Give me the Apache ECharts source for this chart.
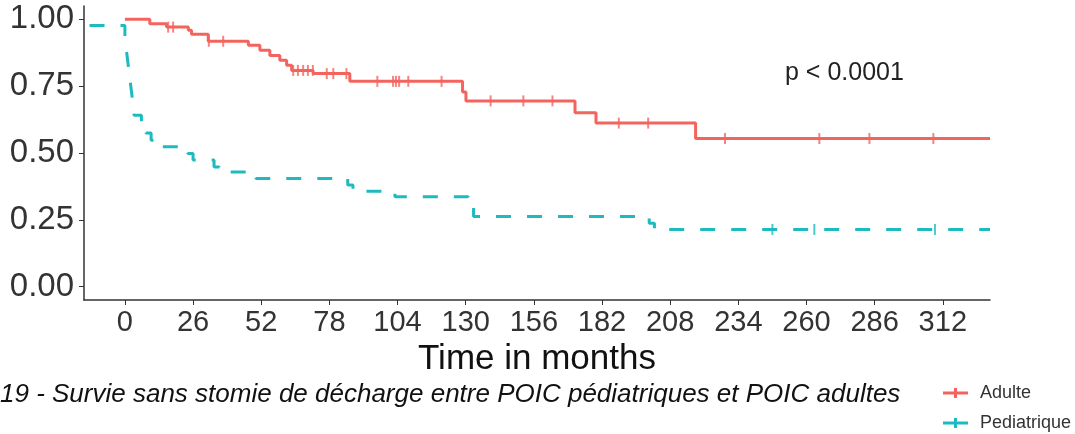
<!DOCTYPE html>
<html>
<head>
<meta charset="utf-8">
<title>Survie sans stomie</title>
<script src="https://cdn.jsdelivr.net/npm/echarts@6/dist/echarts.min.js"></script>
<style>
  html, body { margin: 0; padding: 0; background: #fff; }
  #chart { width: 1075px; height: 434px; }
</style>
</head>
<body>
<div id="chart"></div>
<script>
// courbes de Kaplan-Meier
const adultTimes = [0, 9.5, 15.9, 24.2, 25.4, 31.8, 47.1, 51.5, 55.3, 59.1, 61.7, 63.6, 71.8, 85.8, 128.8, 130.1, 171.7, 179.7, 217.7, 330];
const adultSurv = [1.0, 0.984, 0.971, 0.959, 0.944, 0.918, 0.903, 0.884, 0.865, 0.847, 0.828, 0.809, 0.797, 0.768, 0.728, 0.695, 0.651, 0.612, 0.554, 0.554];
const adultCensor = [16.5, 18.4, 32, 37.5, 64.2, 66, 68, 69.8, 71.7, 77, 79.5, 84.5, 96.3, 102.3, 103.4, 104.6, 108.1, 120.8, 139.5, 152, 163.1, 188.4, 199.6, 228.9, 264.9, 284, 308.4];

const pedTimes = [-13.5, 0, 0.5, 1.0, 1.5, 2.0, 2.5, 3.0, 3.5, 6.3, 8.0, 10.0, 12.0, 24.0, 26.0, 34.0, 36.0, 50.0, 85.0, 87.0, 103.0, 131.0, 133.0, 200.0, 202.0, 330];
const pedSurv = [0.977, 0.93, 0.89, 0.85, 0.81, 0.77, 0.73, 0.69, 0.641, 0.61, 0.575, 0.548, 0.523, 0.498, 0.474, 0.448, 0.429, 0.405, 0.38, 0.357, 0.336, 0.30, 0.262, 0.237, 0.214, 0.214];
const pedCensor = [247, 263, 309];

const xTicks = [0, 26, 52, 78, 104, 130, 156, 182, 208, 234, 260, 286, 312];
const yTicks = [0, 0.25, 0.5, 0.75, 1];

const RED = '#F3645E';
const TEAL = '#1DBABF';

function survAt(times, surv, t) {
  let v = surv[0];
  for (let i = 0; i < times.length; i++) {
    if (times[i] <= t) v = surv[i];
  }
  return v;
}

const chart = echarts.init(document.getElementById('chart'));

const plusIcon = 'path://M0,7h50v6h-50z M22,0h6v20h-6z';

const option = {
  animation: false,
  grid: { left: 84, right: 85, top: 6, bottom: 134 },
  xAxis: {
    type: 'value',
    min: -15.6,
    max: 330,
    name: 'Time in months',
    nameLocation: 'middle',
    nameGap: 35,
    nameTextStyle: { fontFamily: 'Liberation Sans', fontSize: 35, color: '#111' },
    splitLine: { show: false },
    axisLine: { show: true, onZero: false, lineStyle: { color: '#333', width: 1.5 } },
    axisTick: { show: true, customValues: xTicks, length: 5, lineStyle: { color: '#333' } },
    axisLabel: {
      customValues: xTicks,
      margin: 8,
      fontFamily: 'Liberation Sans',
      fontSize: 29,
      color: '#333'
    }
  },
  yAxis: {
    type: 'value',
    min: -0.05,
    max: 1.05,
    splitLine: { show: false },
    axisLine: { show: true, onZero: false, lineStyle: { color: '#333', width: 1.5 } },
    axisTick: { show: true, customValues: yTicks, length: 5, lineStyle: { color: '#333' } },
    axisLabel: {
      customValues: yTicks,
      margin: 10,
      fontFamily: 'Liberation Sans',
      fontSize: 33,
      color: '#333',
      formatter: v => v.toFixed(2)
    }
  },
  legend: {
    orient: 'vertical',
    left: 943,
    top: 383,
    width: 132,
    height: 51,
    padding: 0,
    itemWidth: 25,
    itemHeight: 10,
    itemGap: 10,
    textStyle: { fontFamily: 'Liberation Sans', fontSize: 18, lineHeight: 20, color: '#333', padding: [0, 0, 0, 7] },
    data: [
      { name: 'Adulte', icon: plusIcon, itemStyle: { color: RED } },
      { name: 'Pediatrique', icon: plusIcon, itemStyle: { color: TEAL } }
    ]
  },
  graphic: [
    {
      type: 'text',
      left: 785,
      top: 61,
      style: { text: 'p < 0.0001', fontFamily: 'Liberation Sans', fontSize: 25, fill: '#222' }
    },
    {
      type: 'text',
      left: 0,
      top: 382,
      style: {
        text: '19 - Survie sans stomie de décharge entre POIC pédiatriques et POIC adultes',
        fontFamily: 'Liberation Sans',
        fontStyle: 'italic',
        fontSize: 26,
        fill: '#111'
      }
    }
  ],
  series: [
    {
      name: 'Adulte',
      type: 'line',
      step: 'end',
      showSymbol: false,
      color: RED,
      lineStyle: { color: RED, width: 3 },
      data: adultTimes.map((t, i) => [t, adultSurv[i]])
    },
    {
      name: 'Adulte',
      type: 'scatter',
      symbol: 'rect',
      symbolSize: [2, 11],
      itemStyle: { color: RED },
      data: adultCensor.map(t => [t, survAt(adultTimes, adultSurv, t)])
    },
    {
      name: 'Pediatrique',
      type: 'line',
      step: 'end',
      showSymbol: false,
      color: TEAL,
      lineStyle: { color: TEAL, width: 3, type: [15, 16] },
      data: pedTimes.map((t, i) => [t, pedSurv[i]])
    },
    {
      name: 'Pediatrique',
      type: 'scatter',
      symbol: 'rect',
      symbolSize: [2, 11],
      itemStyle: { color: TEAL },
      data: pedCensor.map(t => [t, survAt(pedTimes, pedSurv, t)])
    }
  ]
};

chart.setOption(option);
</script>
</body>
</html>
